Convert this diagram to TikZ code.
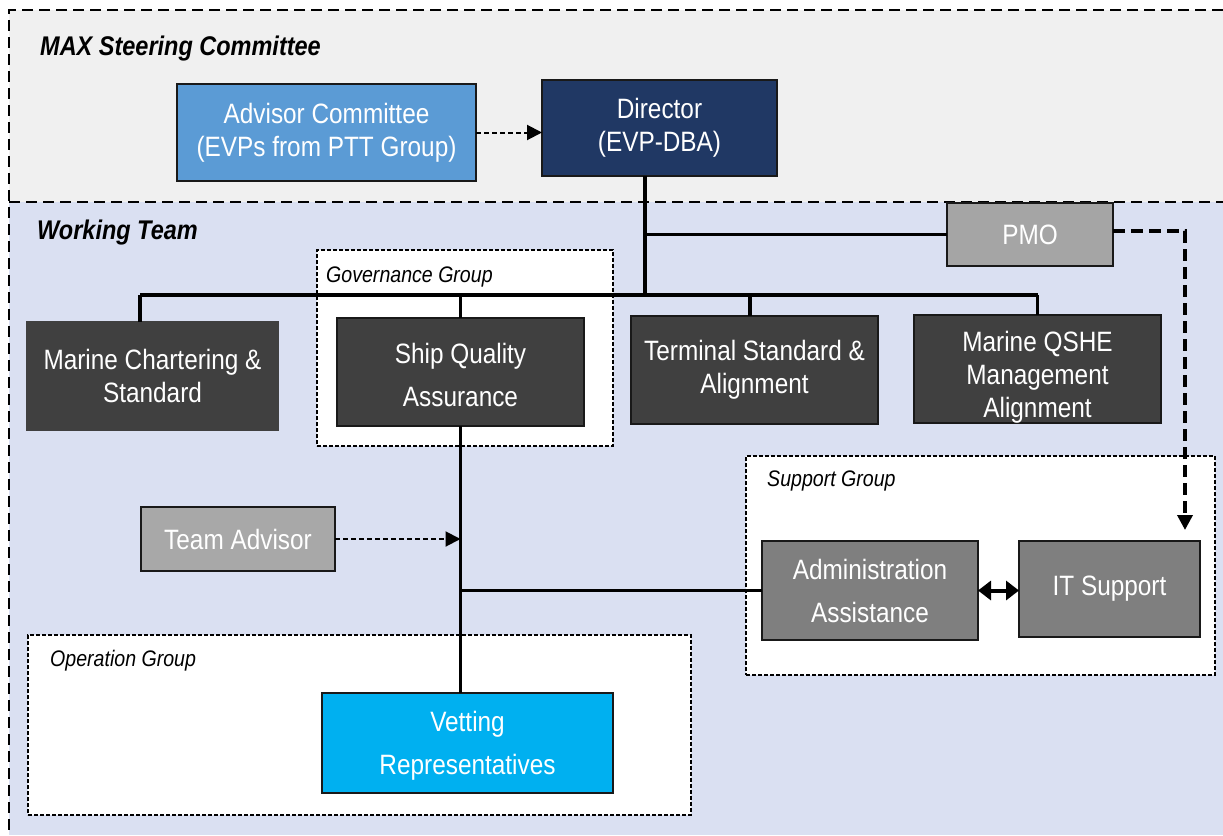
\documentclass[tikz,border=0pt]{standalone}
\usepackage{fontspec}
\setmainfont{Liberation Sans}
\newfontfamily\nar{Liberation Sans}[FakeStretch=0.87]
\usetikzlibrary{arrows.meta}
\definecolor{topbg}{HTML}{F0F0F0}
\definecolor{botbg}{HTML}{DAE0F2}
\definecolor{advblue}{HTML}{5B9BD5}
\definecolor{navy}{HTML}{203864}
\definecolor{darkbox}{HTML}{404040}
\definecolor{pmogrey}{HTML}{A5A5A5}
\definecolor{tagrey}{HTML}{A8A8A8}
\definecolor{midgrey}{HTML}{7F7F7F}
\definecolor{vetblue}{HTML}{00B0F0}
\begin{document}
\begin{tikzpicture}[x=1pt,y=-1pt,
  regionline/.style={line width=1.6pt, dash pattern=on 11pt off 6pt},
  grp/.style={draw=black, fill=white, line width=1.1pt, dash pattern=on 4pt off 2pt, inner sep=0pt, outer sep=0pt},
  grplabel/.style={font=\nar\itshape\fontsize{22.5}{26}\selectfont, inner sep=0pt, anchor=west},
  title/.style={font=\nar\bfseries\itshape\fontsize{27}{30}\selectfont, inner sep=0pt, anchor=west},
  box/.style={draw=black!90, line width=1.4pt, text=white, align=center, inner sep=0pt, outer sep=0pt,
    font=\nar\fontsize{28}{33}\selectfont},
  wide/.style={font=\nar\fontsize{28}{43}\selectfont},
  conn/.style={line width=3.5pt},
  dasharrow/.style={line width=2pt, dash pattern=on 5pt off 3pt, -{Triangle[length=15pt,width=15pt]}},
  pmoarrow/.style={line width=3.5pt, dash pattern=on 12pt off 6pt, -{Triangle[length=15pt,width=15pt]}},
  dblarrow/.style={line width=4pt, {Triangle[length=13pt,width=19pt]}-{Triangle[length=13pt,width=19pt]}}
]
\useasboundingbox (0,0) rectangle (1223,835);
% backgrounds
\fill[topbg] (9,10) rectangle (1223,202);
\fill[botbg] (9,202) rectangle (1223,835);
\draw[regionline] (1223,10) -- (9,10) -- (9,835);
\draw[regionline] (9,202) -- (1223,202);
\node[title] (ttop) at (40,49) {MAX Steering Committee};
\node[title] (tbot) at (37,233) {Working Team};

% groups
\node[grp, minimum width=296pt, minimum height=196pt] (gov) at (465,348) {};
\node[grplabel] (govl) at ([xshift=9pt,yshift=-27pt]gov.north west) {Governance Group};
\node[grp, minimum width=469pt, minimum height=219pt] (sup) at (980.5,565.5) {};
\node[grplabel] (supl) at ([xshift=21pt,yshift=-25pt]sup.north west) {Support Group};
\node[grp, minimum width=663pt, minimum height=180pt] (op) at (359.5,725) {};
\node[grplabel] (opl) at ([xshift=22pt,yshift=-26pt]op.north west) {Operation Group};

% boxes
\node[box, fill=advblue, minimum width=299pt, minimum height=97pt] (adv) at (326.5,132.5) {Advisor Committee\\(EVPs from PTT Group)};
\node[box, fill=navy, minimum width=235pt, minimum height=96pt] (dir) at (659.5,128) {Director\\(EVP-DBA)};
\node[box, fill=pmogrey, minimum width=166pt, minimum height=63pt] (pmo) at (1030,234.5) {PMO};
\node[box, draw=darkbox, fill=darkbox, minimum width=251pt, minimum height=108pt] (mcs) at (152.5,376) {Marine Chartering \&\\Standard};
\node[box, wide, fill=darkbox, minimum width=247pt, minimum height=108pt] (sqa) at (460.5,372) {\rule{0pt}{26pt}Ship Quality\\Assurance};
\node[box, fill=darkbox, minimum width=247pt, minimum height=108pt] (tsa) at (754.5,370) {Terminal Standard \&\\Alignment};
\node[box, fill=darkbox, minimum width=247pt, minimum height=108pt] (qshe) at (1037.5,369) {\rule{0pt}{36pt}Marine QSHE\\Management\\Alignment};
\node[box, fill=tagrey, minimum width=194pt, minimum height=64pt] (ta) at (238,539) {Team Advisor};
\node[box, wide, fill=midgrey, minimum width=216pt, minimum height=99pt] (adm) at (870,590.5) {Administration\\Assistance};
\node[box, fill=midgrey, minimum width=181pt, minimum height=96pt] (it) at (1109.5,589) {IT Support};
\node[box, wide, fill=vetblue, minimum width=291pt, minimum height=100pt] (vet) at (467.5,743) {\rule{0pt}{26pt}Vetting\\Representatives};

% connectors
\coordinate (bus) at (645,295);
\coordinate (mcsdrop) at (140,322);
\coordinate (pmocorner) at (1185,231);
\coordinate (ittop) at (1185,530);
\draw[dasharrow] (adv.east) -- (adv.east -| dir.west);
\draw[conn] (dir.south -| bus) -- (bus);
\draw[conn] (bus |- pmo.west) -- (pmo.west);
\draw[conn] (mcsdrop |- bus) -- (qshe.north |- bus);
\draw[conn] (mcsdrop |- bus) -- (mcsdrop);
\draw[conn] (sqa.north |- bus) -- (sqa.north);
\draw[conn] ([xshift=-4.5pt]tsa.north |- bus) -- ([xshift=-4.5pt]tsa.north);
\draw[conn] (qshe.north |- bus) -- (qshe.north);
\draw[conn] (sqa.south) -- (sqa.south |- vet.north);
\draw[dasharrow] (ta.east) -- (ta.east -| sqa.south);
\draw[conn] (adm.west) -- (adm.west -| sqa.south);
\draw[pmoarrow] (pmo.east |- pmocorner) -- (pmocorner) -- (ittop);
\draw[dblarrow] (adm.east) -- (adm.east -| it.west);
\end{tikzpicture}
\end{document}
